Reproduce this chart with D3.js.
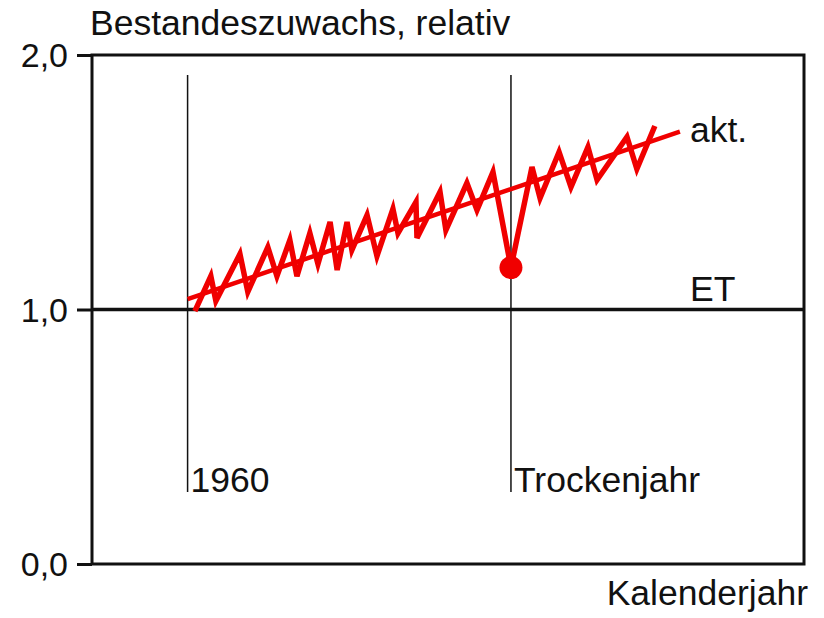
<!DOCTYPE html>
<html>
<head>
<meta charset="utf-8">
<script src="https://cdn.jsdelivr.net/npm/d3@7"></script>
<style>
  html, body { margin: 0; padding: 0; background: #fff; }
  svg text { font-family: "Liberation Sans", Arial, Helvetica, sans-serif; fill: #111; }
</style>
</head>
<body>
<svg id="chart" width="824" height="618"></svg>
<script>
// ---- data ----
const yTicks = [0, 1, 2];
const yTickLabels = ["0,0", "1,0", "2,0"];
const xDomain = [1955.27, 1990.5];

// annual growth (zigzag), relative to ET
const zigYears = [1960.36, 1961.15, 1961.40, 1962.59, 1962.98, 1963.97, 1964.42, 1965.06, 1965.41,
  1966.05, 1966.45, 1967.05, 1967.40, 1967.89, 1968.13, 1968.88, 1969.37, 1970.16, 1970.41,
  1971.30, 1971.35, 1972.49, 1972.78, 1973.82, 1974.32, 1975.11, 1976.00,
  1977.04, 1977.44, 1978.38, 1978.97, 1979.81, 1980.26, 1981.74, 1982.23, 1983.12];
const zigValues = [0.994, 1.131, 1.033, 1.218, 1.069, 1.245, 1.131, 1.273, 1.131,
  1.300, 1.179, 1.344, 1.155, 1.344, 1.234, 1.371, 1.210, 1.395, 1.300,
  1.422, 1.281, 1.462, 1.312, 1.497, 1.391, 1.540, 1.165,
  1.560, 1.438, 1.619, 1.481, 1.638, 1.509, 1.678, 1.552, 1.721];

// trend ("akt.")
const trendYears = [1960.0, 1984.36];
const trendValues = [1.041, 1.699];

// drought year marker
const droughtYear = [1976.0];
const droughtValue = [1.165];

// reference lines
const etValue = 1.0;
const markerYears = [1960, 1976];
const markerLabels = ["1960", "Trockenjahr"];
const markerRange = [0.283, 1.921];

// ---- drawing ----
const svg = d3.select("#chart");
const mLeft = 92, mRight = 804, mTop = 55, mBottom = 564;
const x = d3.scaleLinear().domain(xDomain).range([mLeft, mRight]);
const y = d3.scaleLinear().domain([0, 2]).range([mBottom, mTop]);
const FS = 34, FSL = 35.5;

// frame
svg.append("rect")
  .attr("x", mLeft).attr("y", mTop)
  .attr("width", mRight - mLeft).attr("height", mBottom - mTop)
  .attr("fill", "none").attr("stroke", "#111").attr("stroke-width", 3);

// y axis ticks + labels
const yAxis = d3.axisLeft(y).tickValues(yTicks)
  .tickFormat((d, i) => yTickLabels[i]).tickSize(15).tickPadding(9);
const ga = svg.append("g").attr("transform", `translate(${mLeft},0)`).call(yAxis);
ga.select(".domain").remove();
ga.selectAll(".tick line").attr("stroke", "#111").attr("stroke-width", 3);
ga.selectAll(".tick text")
  .style("font-family", '"Liberation Sans", Arial, sans-serif')
  .style("font-size", FS + "px").attr("fill", "#111").attr("dy", "0.34em");

// ET line
svg.append("line")
  .attr("x1", mLeft).attr("x2", mRight)
  .attr("y1", y(etValue)).attr("y2", y(etValue))
  .attr("stroke", "#111").attr("stroke-width", 3.5);

// vertical markers
svg.selectAll(".marker").data(markerYears).enter().append("line")
  .attr("x1", d => x(d)).attr("x2", d => x(d))
  .attr("y1", y(markerRange[1])).attr("y2", y(markerRange[0]))
  .attr("stroke", "#111").attr("stroke-width", 1.5);
svg.selectAll(".mlabel").data(markerYears).enter().append("text")
  .attr("x", d => x(d) + 3).attr("y", y(markerRange[0]))
  .style("font-size", FSL + "px")
  .text((d, i) => markerLabels[i]);

// trend
const red = "#f00000";
svg.append("path")
  .datum(trendYears.map((d, i) => [d, trendValues[i]]))
  .attr("d", d3.line().x(d => x(d[0])).y(d => y(d[1])))
  .attr("fill", "none").attr("stroke", red).attr("stroke-width", 4.5);

// zigzag
svg.append("path")
  .datum(zigYears.map((d, i) => [d, zigValues[i]]))
  .attr("d", d3.line().x(d => x(d[0])).y(d => y(d[1])))
  .attr("fill", "none").attr("stroke", red).attr("stroke-width", 5.5)
  .attr("stroke-linejoin", "miter").attr("stroke-miterlimit", 4);

// drought dot
svg.selectAll(".dot").data(droughtYear).enter().append("circle")
  .attr("cx", d => x(d)).attr("cy", (d, i) => y(droughtValue[i]))
  .attr("r", 11.5).attr("fill", red);

// labels
svg.append("text").attr("x", 90).attr("y", 35)
  .style("font-size", FSL + "px").text("Bestandeszuwachs, relativ");
svg.append("text").attr("x", 690).attr("y", 142)
  .style("font-size", FSL + "px").text("akt.");
svg.append("text").attr("x", 690).attr("y", 301)
  .style("font-size", FSL + "px").text("ET");
svg.append("text").attr("x", 808).attr("y", 605).attr("text-anchor", "end")
  .style("font-size", FSL + "px").text("Kalenderjahr");
</script>
</body>
</html>
